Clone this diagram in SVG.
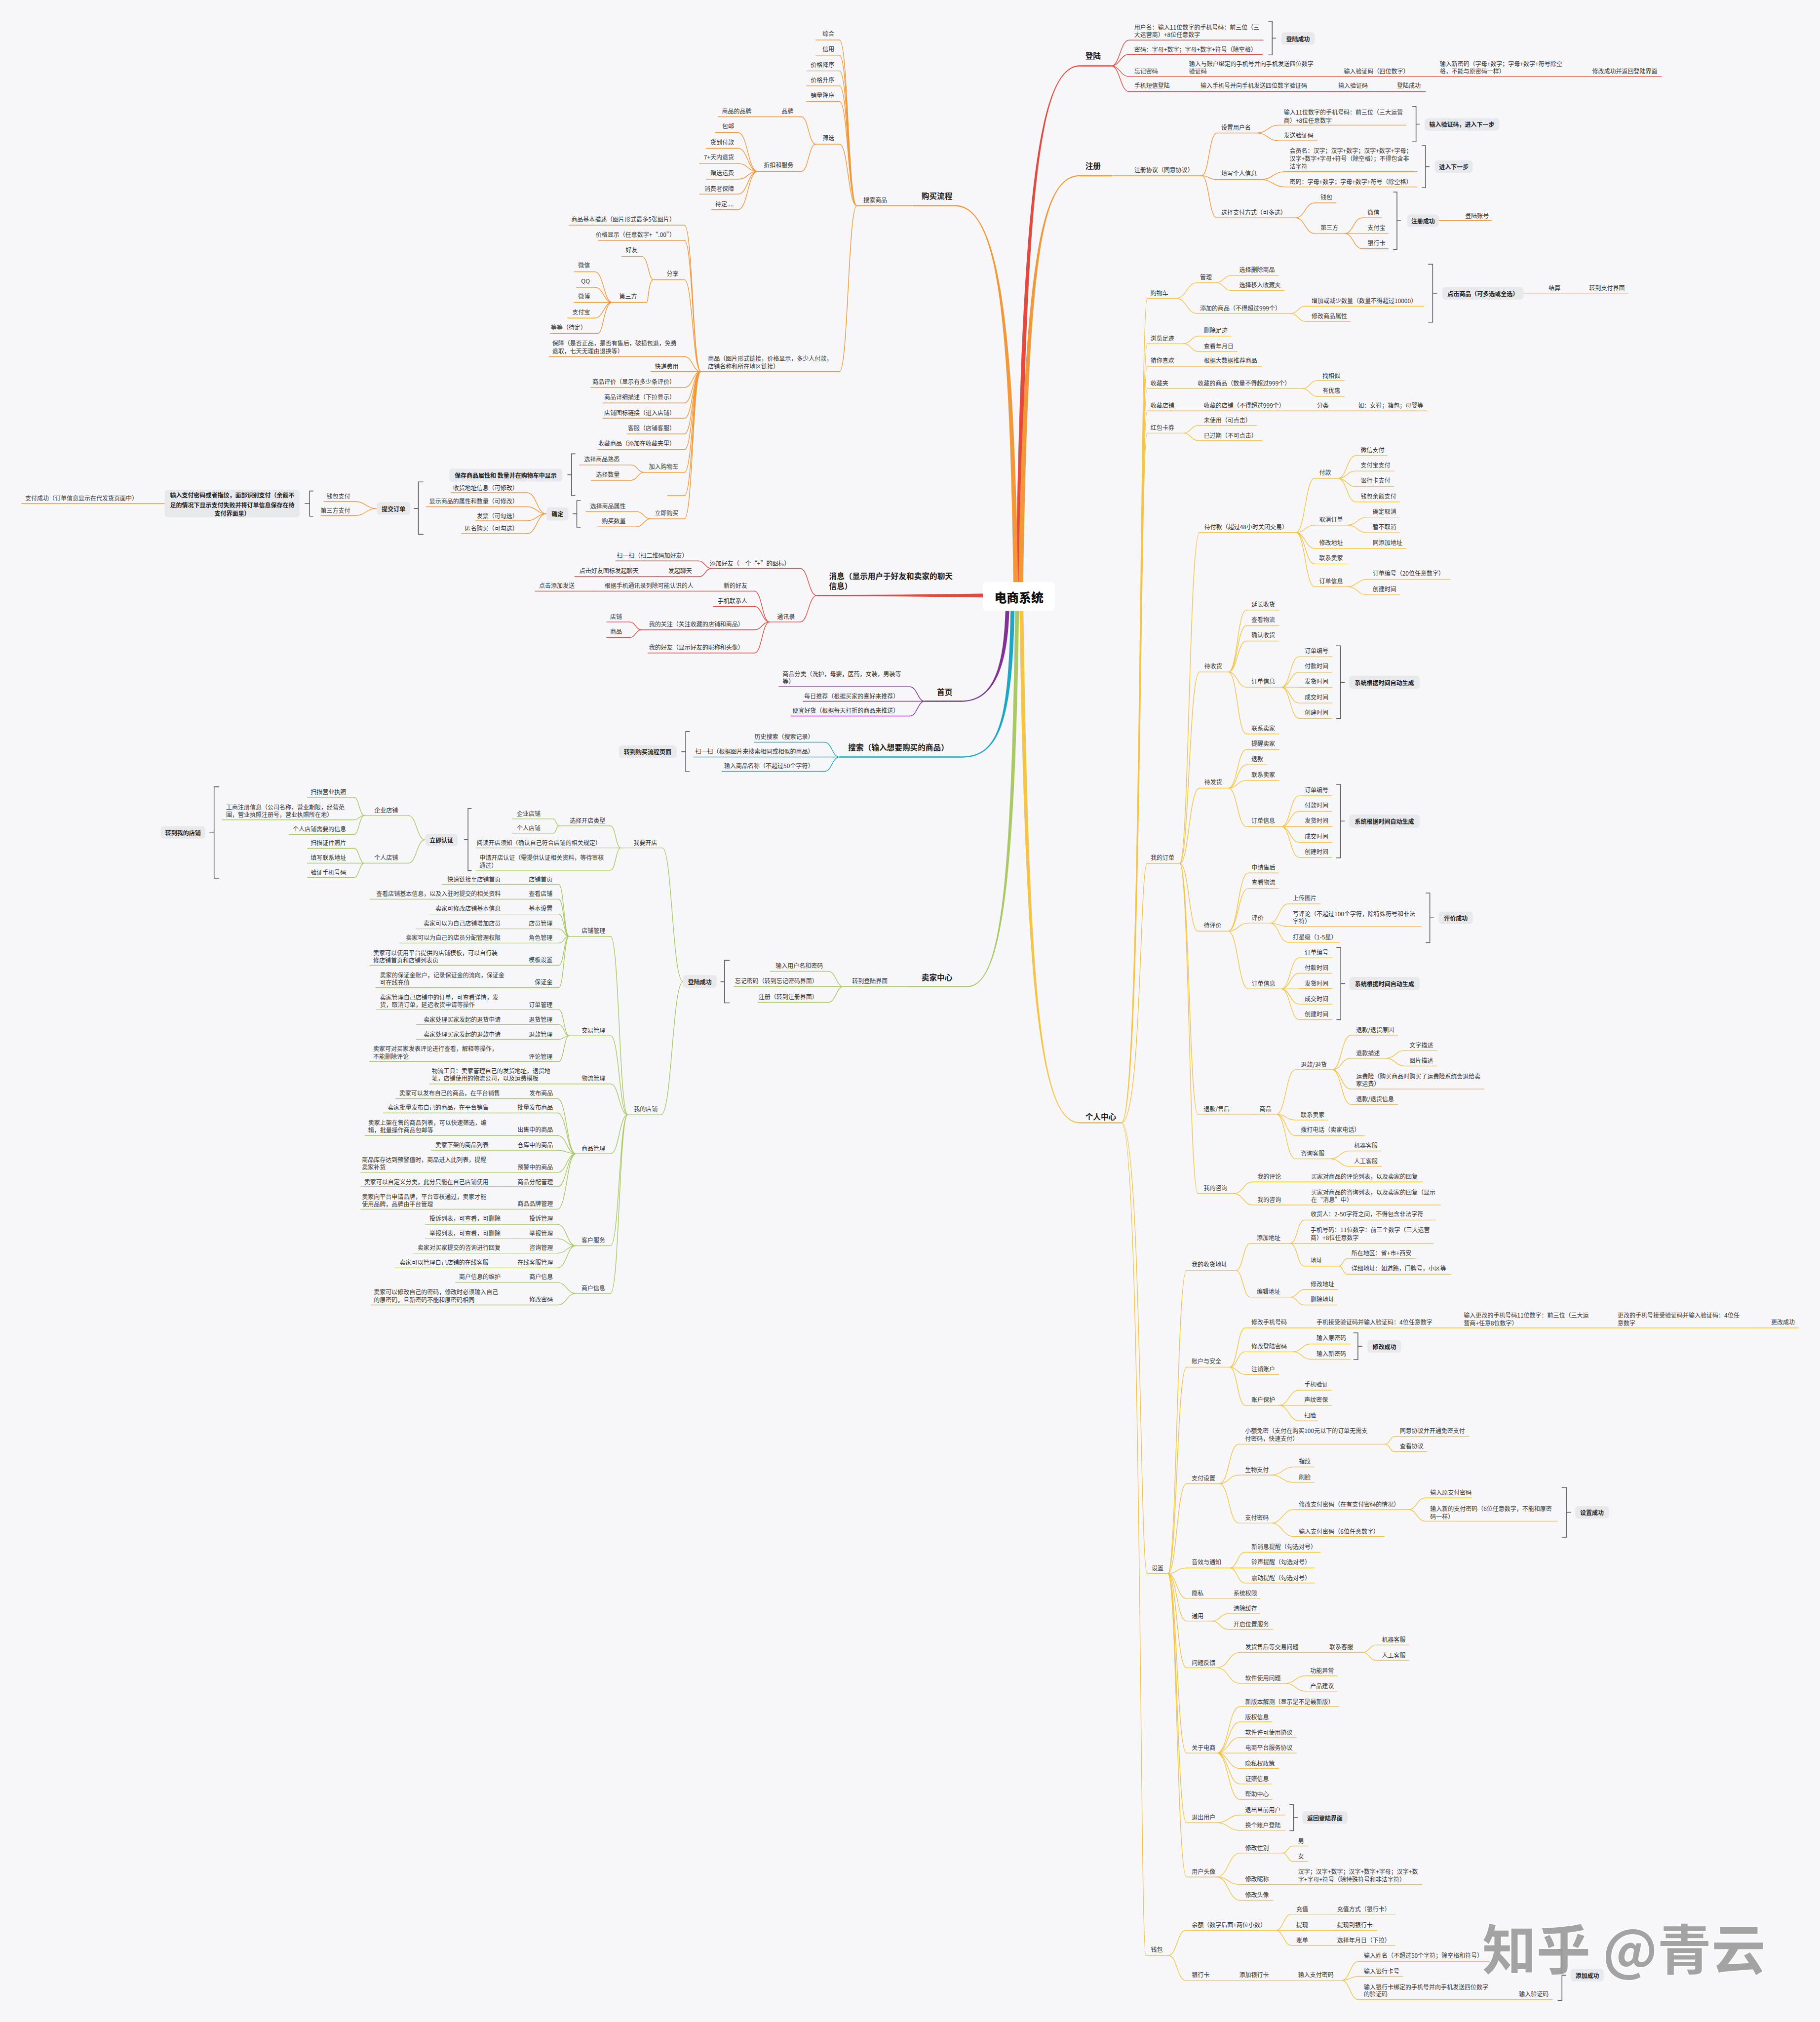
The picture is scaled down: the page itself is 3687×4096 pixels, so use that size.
<svg xmlns="http://www.w3.org/2000/svg" width="3687" height="4096" viewBox="0 0 3687 4096">
<style>
text{font-family:"Noto Sans CJK SC","Noto Sans",sans-serif;font-size:4.6px;fill:#333;dominant-baseline:central}
.e{text-anchor:end}
text.m{font-size:6px;font-weight:700;fill:#1e1e1e}
text.c{font-size:9.5px;font-weight:900;fill:#111;text-anchor:middle}
text.bt{font-weight:700;fill:#222;text-anchor:middle}
.bx{fill:#E8E9EC}
path.k{fill:none;stroke:#5c5c5c;stroke-width:.6}
.R path,.O path,.Y path,.P path,.C path,.G path{fill:none;stroke-width:.55;stroke-linecap:round}
.R path{stroke:#E4493F}.O path{stroke:#F39839}.Y path{stroke:#F5C445}.P path{stroke:#7E3395}.C path{stroke:#1DA7C6}.G path{stroke:#A8C964}
path.w{stroke-width:1}
.fR{fill:#E4493F}.fO{fill:#F39839}.fY{fill:#F5C445}.fP{fill:#7E3395}.fC{fill:#1DA7C6}.fG{fill:#A8C964}
</style>
<rect width="3687" height="4096" fill="#F7F7F9"/>
<g transform="scale(2.6112)">
<g id="connectors">
<g id="main-branches">
<path class="fR" d="M788.2 452C792.2 150 806 50.65 838 50.65L838 51.55C806 51.55 795.8 150 791.8 452Z"/>
<path class="fO" d="M790.2 452C794.2 200 808 135.85 838 135.85L838 136.75C808 136.75 797.8 200 793.8 452Z"/>
<path class="fO" d="M789.8 452C786.8 250 775 159.15 741 159.15L741 160.05C775 160.05 783.2 250 786.2 452Z"/>
<path class="fY" d="M791 474C795.5 780 808 871.45 838 871.45L838 870.55C808 870.55 798.5 780 794 474Z"/>
<path class="fP" d="M783 474C781.5 520 770 544.45 745.9 544.45L745.9 543.55C770 543.55 778.5 520 780 474Z"/>
<path class="fC" d="M787 474C785.5 560 775 587.75 745.9 587.75L745.9 586.85C775 586.85 782.5 560 784 474Z"/>
<path class="fG" d="M790.5 474C787.5 700 775 765.85 750.2 765.85L750.2 764.95C775 764.95 784.5 700 787.5 474Z"/>
<path class="fR" d="M762.5 460.5L700 461.3L633.7 461.55V462.45L700 462.7L762.5 463.5Z"/>
</g>
<g class="R">
<path d="M862 51.1C869 51.1 869 31.1 876 31.1M862 51.1C869 51.1 869 42.2 876 42.2M862 51.1C869 51.1 869 59.3 876 59.3M862 51.1C869 51.1 869 71.1 876 71.1"/>
<path d="M633.7 462C627.2 462 627.2 441 620.7 441M633.7 462C627.2 462 627.2 482.5 620.7 482.5"/>
<path d="M552.2 441C547 441 547 435.1 541.6 435.1M552.2 441C547 441 547 447.3 542.7 447.3"/>
<path d="M597.1 482.5C591.2 482.5 591.2 458.6 585.3 458.6M597.1 482.5C591.2 482.5 591.2 470.5 585.3 470.5M597.1 482.5C591.2 482.5 591.2 488.6 585.3 488.6M597.1 482.5C591.2 482.5 591.2 506.6 585.3 506.6"/>
<path d="M497.8 488.6C493.1 488.6 493.1 482.5 488.4 482.5M497.8 488.6C493.1 488.6 493.1 494.6 488.4 494.6"/>
</g>
<g class="O">
<path d="M862 136.3H876M1116.2 171.1H1133"/>
<path d="M932.3 136.3C938 136.3 938 103.2 944 103.2M932.3 136.3C938 136.3 938 139.3 944 139.3M932.3 136.3C938 136.3 938 169 944 169"/>
<path d="M975 103.2C983.5 103.2 983.5 97.1 992 97.1M975 103.2C983.5 103.2 983.5 109.2 992 109.2"/>
<path d="M978 139.3C987.5 139.3 987.5 133.2 997 133.2M978 139.3C987.5 139.3 987.5 145 997 145"/>
<path d="M1005 169C1012.5 169 1012.5 157.4 1020 157.4M1005 169C1012.5 169 1012.5 181.1 1020 181.1"/>
<path d="M1043 181.1C1050 181.1 1050 169 1057 169M1043 181.1H1057M1043 181.1C1050 181.1 1050 192.9 1057 192.9"/>
<path d="M664.7 159.6C658 159.6 658 31 651.3 31M664.7 159.6C658 159.6 658 42.8 651.3 42.8M664.7 159.6C658 159.6 658 55 651.3 55M664.7 159.6C658 159.6 658 66.6 651.3 66.6M664.7 159.6C658 159.6 658 78.8 651.3 78.8M664.7 159.6C658 159.6 658 111.8 651.3 111.8M664.7 159.6C658 159.6 658 288.3 651.3 288.3"/>
<path d="M632.9 111.8C627.3 111.8 627.3 90.6 621.6 90.6M632.9 111.8C627.3 111.8 627.3 133 621.6 133"/>
<path d="M587.8 133C580.2 133 580.2 102.8 572.5 102.8M587.8 133C580.2 133 580.2 115 572.5 115M587.8 133C580.2 133 580.2 126.8 572.5 126.8M587.8 133C580.2 133 580.2 139 572.5 139M587.8 133C580.2 133 580.2 150.6 572.5 150.6M587.8 133C580.2 133 580.2 162.7 572.5 162.7"/>
<path d="M543.8 288.3C537.4 288.3 537.4 174.6 531 174.6M543.8 288.3C537.4 288.3 537.4 186.5 531 186.5M543.8 288.3C537.4 288.3 537.4 217 531 217M543.8 288.3C537.4 288.3 537.4 276.7 531 276.7M543.8 288.3H531M543.8 288.3C537.4 288.3 537.4 300.5 531 300.5M543.8 288.3C537.4 288.3 537.4 312.6 531 312.6M543.8 288.3C537.4 288.3 537.4 324.5 531 324.5M543.8 288.3C537.4 288.3 537.4 336.6 531 336.6M543.8 288.3C537.4 288.3 537.4 348.8 531 348.8M543.8 288.3C537.4 288.3 537.4 366.4 531 366.4M543.8 288.3C537.4 288.3 537.4 384.5 531 384.5M543.8 288.3C537.4 288.3 537.4 402.5 531 402.5"/>
<path d="M506.9 217C503 217 503 198.9 497.7 198.9M506.9 217C503 217 503 234.6 501.8 234.6"/>
<path d="M475.1 234.6C468.3 234.6 468.3 210.8 461.5 210.8M475.1 234.6C468.3 234.6 468.3 222.9 461.5 222.9M475.1 234.6H461.5M475.1 234.6C468.3 234.6 468.3 246.7 461.5 246.7M475.1 234.6C468.3 234.6 468.3 258.6 463.9 258.6"/>
<path d="M499.7 366.4C494.6 366.4 494.6 360.7 489.5 360.7M499.7 366.4C494.6 366.4 494.6 372.6 489.5 372.6"/>
<path d="M505 402.5C499.3 402.5 499.3 396.9 493.6 396.9M505 402.5C499.3 402.5 499.3 408.7 493.6 408.7"/>
<path d="M423.9 398.6C416.4 398.6 416.4 382.2 408.8 382.2M423.9 398.6C416.4 398.6 416.4 393.1 408.8 393.1M423.9 398.6C416.4 398.6 416.4 404 408.8 404M423.9 398.6C416.4 398.6 416.4 414 408.8 414"/>
<path d="M292.3 394.5C283.7 394.5 283.7 389 275 389M292.3 394.5C283.7 394.5 283.7 400 275 400"/>
</g>
<g class="Y">
<path d="M870 871C886 871 884 231.4 890 231.4M870 871C886 871 884 266.6 890 266.6M870 871C886 871 884 284.2 890 284.2M870 871C886 871 884 301.5 890 301.5M870 871C886 871 884 318.7 890 318.7M870 871C886 871 884 336 890 336M870 871C886 871 884 669.8 890 669.8M870 871C886 871 884 1220.8 890 1220.8M870 871C886 871 884 1516.9 889 1516.9"/>
<path d="M912.2 231.4C920.6 231.4 920.6 219.3 929 219.3M912.2 231.4C920.6 231.4 920.6 243.2 929 243.2M943 219.3C949.5 219.3 949.5 213.6 956 213.6M943 219.3C949.5 219.3 949.5 225.5 956 225.5M1001.2 243.2C1007.1 243.2 1007.1 237.5 1013 237.5M1001.2 243.2C1007.1 243.2 1007.1 249.4 1013 249.4M1182 227.4H1198"/>
<path d="M918 266.6C924 266.6 924 260.7 930 260.7M918 266.6C924 266.6 924 272.7 930 272.7M1010.4 301.5C1016.2 301.5 1016.2 295.3 1022 295.3M1010.4 301.5C1016.2 301.5 1016.2 307.5 1022 307.5M918 336C924 336 924 330 930 330M918 336C924 336 924 341.9 930 341.9"/>
<path d="M915.2 669.8C922.5 669.8 922.5 413.1 930.6 413.1M915.2 669.8C922.5 669.8 922.5 521.3 930.6 521.3M915.2 669.8C922.5 669.8 922.5 611.4 930.6 611.4M915.2 669.8C922.5 669.8 922.5 722.4 929.4 722.4M915.2 669.8C922.5 669.8 922.5 864.4 929.4 864.4M915.2 669.8C922.5 669.8 922.5 925.9 929.4 925.9"/>
<path d="M1005.3 413.1C1012.6 413.1 1012.6 371.1 1020 371.1M1005.3 413.1C1012.6 413.1 1012.6 407.4 1020 407.4M1005.3 413.1C1012.6 413.1 1012.6 425.4 1020 425.4M1005.3 413.1C1012.6 413.1 1012.6 437.5 1020 437.5M1005.3 413.1C1012.6 413.1 1012.6 455.1 1020 455.1"/>
<path d="M1037.8 371.1C1044.9 371.1 1044.9 353.5 1052 353.5M1037.8 371.1C1044.9 371.1 1044.9 365.4 1052 365.4M1037.8 371.1C1044.9 371.1 1044.9 377.5 1052 377.5M1037.8 371.1C1044.9 371.1 1044.9 389.4 1052 389.4"/>
<path d="M1045 407.4C1053 407.4 1053 401.2 1061 401.2M1045 407.4C1053 407.4 1053 413.3 1061 413.3M1045 455.1C1053 455.1 1053 449.4 1061 449.4M1045 455.1C1053 455.1 1053 461.5 1061 461.5"/>
<path d="M953 521.3C960 521.3 960 473.3 967 473.3M953 521.3C960 521.3 960 485.4 967 485.4M953 521.3C960 521.3 960 497.3 967 497.3M953 521.3C960 521.3 960 533.1 967 533.1M953 521.3C960 521.3 960 569.4 967 569.4"/>
<path d="M994 533.1C1001 533.1 1001 509.4 1008 509.4M994 533.1C1001 533.1 1001 521.5 1008 521.5M994 533.1H1008M994 533.1C1001 533.1 1001 545.4 1008 545.4M994 533.1C1001 533.1 1001 557.3 1008 557.3"/>
<path d="M953 611.4C960 611.4 960 581.5 967 581.5M953 611.4C960 611.4 960 593.3 967 593.3M953 611.4C960 611.4 960 605.4 967 605.4M953 611.4C960 611.4 960 641.3 967 641.3"/>
<path d="M994 641.3C1001 641.3 1001 617.3 1008 617.3M994 641.3C1001 641.3 1001 629.4 1008 629.4M994 641.3H1008M994 641.3C1001 641.3 1001 653.4 1008 653.4M994 641.3C1001 641.3 1001 665.2 1008 665.2"/>
<path d="M952.7 722.4C960.6 722.4 960.6 677.2 968.5 677.2M952.7 722.4C960.6 722.4 960.6 689.2 968.5 689.2M952.7 722.4C960.6 722.4 960.6 716.1 968.5 716.1M952.7 722.4C960.6 722.4 960.6 767.2 968.5 767.2"/>
<path d="M985.2 716.1C992.3 716.1 992.3 701.2 999.5 701.2M985.2 716.1C992.3 716.1 992.3 718.8 999.5 718.8M985.2 716.1C992.3 716.1 992.3 731 999.5 731"/>
<path d="M994 767.2C1001 767.2 1001 743 1008 743M994 767.2C1001 767.2 1001 755 1008 755M994 767.2H1008M994 767.2C1001 767.2 1001 779 1008 779M994 767.2C1001 767.2 1001 791 1008 791"/>
<path d="M990.2 864.4C997.6 864.4 997.6 829.9 1005 829.9M990.2 864.4C997.6 864.4 997.6 868.9 1005 868.9M990.2 864.4C997.6 864.4 997.6 881 1005 881M990.2 864.4C997.6 864.4 997.6 899 1005 899"/>
<path d="M1033.5 829.9C1040.7 829.9 1040.7 803.1 1048 803.1M1033.5 829.9C1040.7 829.9 1040.7 821 1048 821M1033.5 829.9C1040.7 829.9 1040.7 844.8 1048 844.8M1033.5 829.9C1040.7 829.9 1040.7 856.8 1048 856.8"/>
<path d="M1075 821C1082.5 821 1082.5 814.9 1090 814.9M1075 821C1082.5 821 1082.5 827 1090 827M1032 899C1039.5 899 1039.5 892.9 1047 892.9M1032 899C1039.5 899 1039.5 904.9 1047 904.9M957 925.9C964.5 925.9 964.5 916.9 972 916.9M957 925.9C964.5 925.9 964.5 934.8 972 934.8"/>
<path d="M906 1220.8C913 1220.8 913 985.6 920.5 985.6M906 1220.8C913 1220.8 913 1060.6 920.5 1060.6M906 1220.8C913 1220.8 913 1151 920.5 1151M906 1220.8C913 1220.8 913 1216.4 920.5 1216.4M906 1220.8C913 1220.8 913 1240 920.5 1240M906 1220.8C913 1220.8 913 1257.6 920.5 1257.6M906 1220.8C913 1220.8 913 1293.8 920.5 1293.8M906 1220.8C913 1220.8 913 1360 920.5 1360M906 1220.8C913 1220.8 913 1414 920.5 1414M906 1220.8C913 1220.8 913 1456.1 920.5 1456.1"/>
<path d="M958.7 985.6C964.4 985.6 964.4 964.6 970 964.6M958.7 985.6C964.4 985.6 964.4 1006.3 970 1006.3M1001 964.6C1006.5 964.6 1006.5 946.5 1012 946.5M1001 964.6H1012M1001 964.6C1006.5 964.6 1006.5 982.2 1012 982.2M1038.7 982.2C1041.9 982.2 1041.9 976.5 1045 976.5M1038.7 982.2C1041.9 982.2 1041.9 988.5 1045 988.5M1001 1006.3C1006.5 1006.3 1006.5 1000.4 1012 1000.4M1001 1006.3C1006.5 1006.3 1006.5 1012.4 1012 1012.4"/>
<path d="M954 1060.6C960 1060.6 960 1030.2 966 1030.2M954 1060.6C960 1060.6 960 1048.7 966 1048.7M954 1060.6C960 1060.6 960 1066.3 966 1066.3M954 1060.6C960 1060.6 960 1090.2 966 1090.2M1003 1048.7C1010 1048.7 1010 1042.6 1017 1042.6M1003 1048.7C1010 1048.7 1010 1054.5 1017 1054.5M992 1090.2C1000 1090.2 1000 1078.4 1008 1078.4M992 1090.2H1008M992 1090.2C1000 1090.2 1000 1102.3 1008 1102.3"/>
<path d="M946 1151C953.5 1151 953.5 1120.4 961 1120.4M946 1151C953.5 1151 953.5 1144.3 961 1144.3M946 1151C953.5 1151 953.5 1181.6 961 1181.6M1074.6 1120.4C1078.3 1120.4 1078.3 1114.3 1082 1114.3M1074.6 1120.4C1078.3 1120.4 1078.3 1126.2 1082 1126.2M986 1144.3C995 1144.3 995 1138 1004 1138M986 1144.3C995 1144.3 995 1150.1 1004 1150.1M986 1181.6C995 1181.6 995 1171.1 1004 1171.1M986 1181.6C995 1181.6 995 1192.1 1004 1192.1M1092.5 1171.1C1099.3 1171.1 1099.3 1162 1106 1162M1092.5 1171.1C1099.3 1171.1 1099.3 1180.1 1106 1180.1"/>
<path d="M954 1216.4C960 1216.4 960 1204.2 966 1204.2M954 1216.4H966M954 1216.4C960 1216.4 960 1228.1 966 1228.1M940 1257.6C946.5 1257.6 946.5 1251.9 953 1251.9M940 1257.6C946.5 1257.6 946.5 1264 953 1264"/>
<path d="M944 1293.8C953 1293.8 953 1282 962 1282M944 1293.8C953 1293.8 953 1305.9 962 1305.9M1056.8 1282C1062.4 1282 1062.4 1276.1 1068 1276.1M1056.8 1282C1062.4 1282 1062.4 1288 1068 1288M997 1305.9C1005 1305.9 1005 1300.1 1013 1300.1M997 1305.9C1005 1305.9 1005 1312 1013 1312"/>
<path d="M944 1360C953 1360 953 1323.9 962 1323.9M944 1360C953 1360 953 1335.8 962 1335.8M944 1360C953 1360 953 1347.9 962 1347.9M944 1360H962M944 1360C953 1360 953 1372 962 1372M944 1360C953 1360 953 1384 962 1384M944 1360C953 1360 953 1396 962 1396"/>
<path d="M944 1414C953 1414 953 1408.1 962 1408.1M944 1414C953 1414 953 1420 962 1420M944 1456.1C953 1456.1 953 1437.6 962 1437.6M944 1456.1C953 1456.1 953 1462 962 1462M944 1456.1C953 1456.1 953 1474.2 962 1474.2M995 1437.6C999 1437.6 999 1432.1 1003 1432.1M995 1437.6C999 1437.6 999 1444 1003 1444"/>
<path d="M906.4 1516.9C913.2 1516.9 913.2 1497.5 920 1497.5M906.4 1516.9C913.2 1516.9 913.2 1536.4 920 1536.4M989.6 1497.5C995.8 1497.5 995.8 1485 1002 1485M989.6 1497.5H1002M989.6 1497.5C995.8 1497.5 995.8 1509.2 1002 1509.2M1040.7 1536.4C1047.4 1536.4 1047.4 1521.6 1054 1521.6M1040.7 1536.4C1047.4 1536.4 1047.4 1533.2 1054 1533.2M1040.7 1536.4C1047.4 1536.4 1047.4 1551.3 1054 1551.3"/>
</g>
<g class="P">
<path d="M717.6 544C711.7 544 711.7 532.8 705.8 532.8M717.6 544H708M717.6 544C711.7 544 711.7 555.5 705.8 555.5"/>
</g>
<g class="C">
<path d="M651.4 587.3C645.5 587.3 645.5 575.8 639.6 575.8M651.4 587.3H646.7M651.4 587.3C645.5 587.3 645.5 598.4 639.6 598.4"/>
</g>
<g class="G">
<path d="M654.6 765.4C648.6 765.4 648.6 753.5 642.5 753.5M654.6 765.4H648.6M654.6 765.4C648.6 765.4 648.6 777.6 642.5 777.6"/>
<path d="M530 761.5C521.5 761.5 521.5 657.8 513.9 657.8M530 761.5C521.5 761.5 521.5 864.8 512.8 864.8"/>
<path d="M481.7 657.8C477.7 657.8 477.7 640.7 473.6 640.7M481.7 657.8H473.6M481.7 657.8C477.7 657.8 477.7 675.1 473.6 675.1M433.6 640.7C431.5 640.7 431.5 635.3 429.4 635.3M433.6 640.7C431.5 640.7 431.5 646.4 429.4 646.4"/>
<path d="M329.8 651.5C323.3 651.5 323.3 632.6 316.7 632.6M329.8 651.5C323.3 651.5 323.3 669.6 316.7 669.6"/>
<path d="M282.8 632.6C278.7 632.6 278.7 618.5 274.6 618.5M282.8 632.6C278.7 632.6 278.7 636 274.6 636M282.8 632.6C278.7 632.6 278.7 647.4 274.6 647.4M282.8 669.6C278.7 669.6 278.7 658.1 274.6 658.1M282.8 669.6H274.6M282.8 669.6C278.7 669.6 278.7 680.8 274.6 680.8"/>
<path d="M487 864.8C480.4 864.8 480.4 726.4 473.7 726.4M487 864.8C480.4 864.8 480.4 803.5 473.7 803.5M487 864.8C480.4 864.8 480.4 840.9 473.7 840.9M487 864.8C480.4 864.8 480.4 895.1 473.7 895.1M487 864.8C480.4 864.8 480.4 966.4 473.7 966.4M487 864.8C480.4 864.8 480.4 1003.4 473.7 1003.4"/>
<path d="M441.5 726.4C437.5 726.4 437.5 686.1 433.5 686.1M441.5 726.4C437.5 726.4 437.5 697.6 433.5 697.6M441.5 726.4C437.5 726.4 437.5 709.1 433.5 709.1M441.5 726.4C437.5 726.4 437.5 720.6 433.5 720.6M441.5 726.4C437.5 726.4 437.5 731.6 433.5 731.6M441.5 726.4C437.5 726.4 437.5 748.9 433.5 748.9M441.5 726.4C437.5 726.4 437.5 766.2 433.5 766.2"/>
<path d="M441.5 803.5C437.5 803.5 437.5 783.3 433.5 783.3M441.5 803.5C437.5 803.5 437.5 794.8 433.5 794.8M441.5 803.5C437.5 803.5 437.5 806.3 433.5 806.3M441.5 803.5C437.5 803.5 437.5 823.5 433.5 823.5"/>
<path d="M446.8 895.1C439.7 895.1 439.7 852.3 432.5 852.3M446.8 895.1C439.7 895.1 439.7 863.4 432.5 863.4M446.8 895.1C439.7 895.1 439.7 880.9 432.5 880.9M446.8 895.1C439.7 895.1 439.7 892.3 432.5 892.3M446.8 895.1C439.7 895.1 439.7 909.5 432.5 909.5M446.8 895.1C439.7 895.1 439.7 920.6 432.5 920.6M446.8 895.1C439.7 895.1 439.7 938.1 432.5 938.1"/>
<path d="M446.8 966.4C439.7 966.4 439.7 949.8 432.5 949.8M446.8 966.4C439.7 966.4 439.7 961 432.5 961M446.8 966.4C439.7 966.4 439.7 972.2 432.5 972.2M446.8 966.4C439.7 966.4 439.7 983.6 432.5 983.6M446.8 1003.4C439.7 1003.4 439.7 995 432.5 995M446.8 1003.4C439.7 1003.4 439.7 1012.4 432.5 1012.4"/>
</g>
</g>
<g id="nodes">
<g id="root"><rect x="762.5" y="451.5" width="56" height="22.3" rx="3" fill="#fff"/><text class="c" x="790.5" y="463">电商系统</text></g>
<g class="R">
<g id="dl"><text class="m" x="842" y="43">登陆</text><path class="w" d="M838 51.1H862"/></g>
<g id="dl1"><text><tspan x="880" y="20.8">用户名：输入11位数字的手机号码：前三位（三</tspan><tspan x="880" y="26.5">大运营商）+8位任意数字</tspan></text><path d="M876 31.1H980"/></g>
<g id="dl2"><text x="880" y="38">密码：字母+数字；字母+数字+符号（除空格）</text><path d="M876 42.2H979.4"/></g>
<g id="dl3"><text x="880" y="54.9">忘记密码</text><path d="M876 59.3H919"/></g>
<g id="dl3a"><text><tspan x="922.5" y="48.9">输入与账户绑定的手机号并向手机发送四位数字</tspan><tspan x="922.5" y="54.9">验证码</tspan></text><path d="M919 59.3H1038"/></g>
<g id="dl3b"><text x="1042.6" y="54.9">输入验证码（四位数字）</text><path d="M1038 59.3H1113"/></g>
<g id="dl3c"><text><tspan x="1117" y="48.9">输入新密码（字母+数字；字母+数字+符号除空</tspan><tspan x="1117" y="54.9">格，不能与原密码一样）</tspan></text><path d="M1113 59.3H1231"/></g>
<g id="dl3d"><text x="1235.3" y="54.9">修改成功并返回登陆界面</text><path d="M1231 59.3H1289"/></g>
<g id="dl4"><text x="880" y="66.2">手机短信登陆</text><path d="M876 71.1H927"/></g>
<g id="dl4a"><text x="931.4" y="66.2">输入手机号并向手机发送四位数字验证码</text><path d="M927 71.1H1035"/></g>
<g id="dl4b"><text x="1038.2" y="66.2">输入验证码</text><path d="M1035 71.1H1080"/></g>
<g id="dl4c"><text x="1083.8" y="66.2">登陆成功</text><path d="M1080 71.1H1106"/></g>
<g id="xx"><text class="m"><tspan x="643.2" y="446.4">消息（显示用户于好友和卖家的聊天</tspan><tspan x="643.2" y="454.2">信息）</tspan></text><path d="M633.7 462H700"/></g>
<g id="x1"><text class="e" x="612.9" y="436.7">添加好友（一个“+”的图标）</text><path d="M552.2 441H620.7"/></g>
<g id="x1a"><text class="e" x="533.7" y="430.7">扫一扫（扫二维码加好友）</text><path d="M477.7 435.1H541.6"/></g>
<g id="x1b"><text class="e" x="536.8" y="442.7">发起聊天</text><path d="M510 447.3H542.7"/></g>
<g id="x1b1"><text class="e" x="495.5" y="442.7">点击好友图标发起聊天</text><path d="M445.8 447.3H510"/></g>
<g id="x2"><text class="e" x="616.7" y="478">通讯录</text><path d="M597.1 482.5H620.7"/></g>
<g id="x2a"><text class="e" x="579.8" y="453.9">新的好友</text><path d="M545 458.6H585.3"/></g>
<g id="x2a1"><text class="e" x="538" y="453.9">根据手机通讯录列除可能认识的人</text><path d="M460 458.6H545"/></g>
<g id="x2a2"><text class="e" x="445.8" y="453.9">点击添加发送</text><path d="M415.1 458.6H460"/></g>
<g id="x2b"><text class="e" x="579.8" y="465.9">手机联系人</text><path d="M553.4 470.5H585.3"/></g>
<g id="x2c"><text class="e" x="577" y="484">我的关注（关注收藏的店铺和商品）</text><path d="M497.8 488.6H585.3"/></g>
<g id="x2c1"><text class="e" x="482.5" y="478">店铺</text><path d="M470.6 482.5H488.4"/></g>
<g id="x2c2"><text class="e" x="482.5" y="489.8">商品</text><path d="M470.6 494.6H488.4"/></g>
<g id="x2d"><text class="e" x="577" y="501.8">我的好友（显示好友的昵称和头像）</text><path d="M502.6 506.6H585.3"/></g>
</g>
<g class="O">
<g id="zc"><text class="m" x="842" y="128.6">注册</text><path class="w" d="M838 136.3H862"/></g>
<g id="zc0"><text x="880" y="131.4">注册协议（同意协议）</text><path d="M876 136.3H932.3"/></g>
<g id="zc1"><text x="947.5" y="98.7">设置用户名</text><path d="M944 103.2H975"/></g>
<g id="zc1a"><text><tspan x="996" y="86.6">输入11位数字的手机号码：前三位（三大运营</tspan><tspan x="996" y="92.9">商）+8位任意数字</tspan></text><path d="M992 97.1H1091"/></g>
<g id="zc1b"><text x="996" y="104.6">发送验证码</text><path d="M992 109.2H1022"/></g>
<g id="zc2"><text x="947.5" y="134.3">填写个人信息</text><path d="M944 139.3H978"/></g>
<g id="zc2a"><text><tspan x="1000.5" y="116.5">会员名：汉字；汉字+数字；汉字+数字+字母；</tspan><tspan x="1000.5" y="122.6">汉字+数字+字母+符号（除空格）；不得包含非</tspan><tspan x="1000.5" y="128.6">法字符</tspan></text><path d="M997 133.2H1099.4"/></g>
<g id="zc2b"><text x="1000.5" y="140.8">密码：字母+数字；字母+数字+符号（除空格）</text><path d="M997 145H1099.4"/></g>
<g id="zc3"><text x="947.5" y="164.6">选择支付方式（可多选）</text><path d="M944 169H1005"/></g>
<g id="zc3a"><text x="1024.4" y="152.6">钱包</text><path d="M1020 157.4H1036.5"/></g>
<g id="zc3b"><text x="1024.4" y="176.5">第三方</text><path d="M1020 181.1H1043"/></g>
<g id="zc3b1"><text x="1061" y="164.4">微信</text><path d="M1057 169H1072"/></g>
<g id="zc3b2"><text x="1061" y="176.5">支付宝</text><path d="M1057 181.1H1077"/></g>
<g id="zc3b3"><text x="1061" y="188.3">银行卡</text><path d="M1057 192.9H1077"/></g>
<g id="zc4"><text x="1136.7" y="167.1">登陆账号</text><path d="M1133 171.1H1157"/></g>
<g id="gm"><text class="m" x="714.9" y="151.9">购买流程</text><path class="w" d="M708.7 159.6H741"/></g>
<g id="b1"><text class="e" x="688.2" y="155">搜索商品</text><path d="M664.7 159.6H708.7"/></g>
<g id="b1a"><text class="e" x="647.3" y="25.8">综合</text><path d="M632.9 31H651.3"/></g>
<g id="b1b"><text class="e" x="647.3" y="37.7">信用</text><path d="M632.9 42.8H651.3"/></g>
<g id="b1c"><text class="e" x="647.3" y="49.8">价格降序</text><path d="M625.7 55H651.3"/></g>
<g id="b1d"><text class="e" x="647.3" y="62">价格升序</text><path d="M625.7 66.6H651.3"/></g>
<g id="b1e"><text class="e" x="647.3" y="73.8">销量降序</text><path d="M625.7 78.8H651.3"/></g>
<g id="b1f"><text class="e" x="647.3" y="106.7">筛选</text><path d="M632.9 111.8H651.3"/></g>
<g id="b1f1"><text class="e" x="615.5" y="86">品牌</text><path d="M602.2 90.6H621.6"/></g>
<g id="b1f1a"><text class="e" x="583.1" y="86">商品的品牌</text><path d="M557.1 90.6H602.2"/></g>
<g id="b1f2"><text class="e" x="615.5" y="127.8">折扣和服务</text><path d="M587.8 133H621.6"/></g>
<g id="b1f2a"><text class="e" x="569.5" y="97.6">包邮</text><path d="M555 102.8H572.5"/></g>
<g id="b1f2b"><text class="e" x="569.5" y="110">货到付款</text><path d="M547.9 115H572.5"/></g>
<g id="b1f2c"><text class="e" x="569.5" y="121.6">7+天内退货</text><path d="M542.7 126.8H572.5"/></g>
<g id="b1f2d"><text class="e" x="569.5" y="133.8">赠送运费</text><path d="M547.9 139H572.5"/></g>
<g id="b1f2e"><text class="e" x="569.5" y="146">消费者保障</text><path d="M542.7 150.6H572.5"/></g>
<g id="b1f2f"><text class="e" x="569.2" y="157.8">待定....</text><path d="M552 162.7H572.5"/></g>
<g id="b2"><text><tspan x="549.3" y="277.7">商品（图片形式链接，价格显示，多少人付款，</tspan><tspan x="549.3" y="283.7">店铺名称和所在地区链接）</tspan></text><path d="M543.8 288.3H651.3"/></g>
<g id="b2a"><text class="e" x="523.9" y="170">商品基本描述（图片形式最多5张图片）</text><path d="M441.3 174.6H531"/></g>
<g id="b2b"><text class="e" x="523.9" y="181.9">价格显示（任意数字+“.00”）</text><path d="M463.9 186.5H531"/></g>
<g id="b2c"><text class="e" x="526.4" y="211.8">分享</text><path d="M506.9 217H531"/></g>
<g id="b2c1"><text class="e" x="494.6" y="193.7">好友</text><path d="M482.3 198.9H497.7"/></g>
<g id="b2c2"><text class="e" x="494.2" y="229.4">第三方</text><path d="M475.1 234.6H501.8"/></g>
<g id="b2c2a"><text class="e" x="457.7" y="205.6">微信</text><path d="M445.4 210.8H461.5"/></g>
<g id="b2c2b"><text class="e" x="457.7" y="217.8">QQ</text><path d="M447 222.9H461.5"/></g>
<g id="b2c2c"><text class="e" x="457.7" y="229.7">微博</text><path d="M445.4 234.6H461.5"/></g>
<g id="b2c2d"><text class="e" x="457.7" y="241.8">支付宝</text><path d="M440.3 246.7H461.5"/></g>
<g id="b2c2e"><text class="e" x="455" y="253.7">等等（待定）</text><path d="M427 258.6H463.9"/></g>
<g id="b2d"><text><tspan x="428.4" y="265.6">保障（是否正品，是否有售后，破损包退，免费</tspan><tspan x="428.4" y="272">退取，七天无理由退换等）</tspan></text><path d="M426 276.7H531"/></g>
<g id="b2e"><text class="e" x="526.4" y="283.9">快递费用</text><path d="M505 288.3H531"/></g>
<g id="b2f"><text class="e" x="523.9" y="295.8">商品评价（显示有多少条评价）</text><path d="M458.3 300.5H531"/></g>
<g id="b2g"><text class="e" x="523.9" y="307.7">商品详细描述（下拉显示）</text><path d="M467.7 312.6H531"/></g>
<g id="b2h"><text class="e" x="523.9" y="319.8">店铺图标链接（进入店铺）</text><path d="M467.7 324.5H531"/></g>
<g id="b2i"><text class="e" x="523.9" y="332">客服（店铺客服）</text><path d="M486.5 336.6H531"/></g>
<g id="b2j"><text class="e" x="523.9" y="343.9">收藏商品（添加在收藏夹里）</text><path d="M464 348.8H531"/></g>
<g id="b2k"><text class="e" x="526.4" y="361.7">加入购物车</text><path d="M499.7 366.4H531"/></g>
<g id="b2k1"><text class="e" x="480.7" y="356">选择商品熟悉</text><path d="M449.5 360.7H489.5"/></g>
<g id="b2k2"><text class="e" x="480.7" y="367.9">选择数量</text><path d="M458.7 372.6H489.5"/></g>
<g id="b2l"><path d="M518 384.5H531"/></g>
<g id="b2m"><text class="e" x="526.4" y="397.9">立即购买</text><path d="M505 402.5H531"/></g>
<g id="b2m1"><text class="e" x="485.4" y="392.2">选择商品属性</text><path d="M454.6 396.9H493.6"/></g>
<g id="b2m2"><text class="e" x="485.4" y="403.9">购买数量</text><path d="M463.9 408.7H493.6"/></g>
<g id="b3a"><text class="e" x="402" y="378">收货地址信息（可修改）</text><path d="M349.9 382.2H408.8"/></g>
<g id="b3b"><text class="e" x="402" y="388.7">显示商品的属性和数量（可修改）</text><path d="M330.7 393.1H408.8"/></g>
<g id="b3c"><text class="e" x="402" y="400">发票（可勾选）</text><path d="M369 404H408.8"/></g>
<g id="b3d"><text class="e" x="402" y="409.6">匿名购买（可勾选）</text><path d="M358 414H408.8"/></g>
<g id="b4a"><text class="e" x="271.7" y="384.7">钱包支付</text><path d="M251.2 389H275"/></g>
<g id="b4b"><text class="e" x="271.7" y="395.8">第三方支付</text><path d="M249 400H275"/></g>
<g id="b5"><text x="19.5" y="386.3">支付成功（订单信息显示在代发货页面中）</text><path d="M16.7 390.6H127.8"/></g>
</g>
<g class="Y">
<g id="gr"><text class="m" x="842" y="866">个人中心</text><path class="w" d="M838 871H870"/></g>
<g id="y1"><text x="892.6" y="227">购物车</text><path d="M890 231.4H912.2"/></g>
<g id="y1a"><text x="931" y="214.7">管理</text><path d="M929 219.3H943"/></g>
<g id="y1a1"><text x="961.4" y="208.9">选择删除商品</text><path d="M956 213.6H992"/></g>
<g id="y1a2"><text x="961.4" y="220.7">选择移入收藏夹</text><path d="M956 225.5H996.5"/></g>
<g id="y1b"><text x="931" y="238.8">添加的商品（不得超过999个）</text><path d="M929 243.2H1001.2"/></g>
<g id="y1b1"><text x="1017.5" y="233">增加或减少数量（数量不得超过10000）</text><path d="M1013 237.5H1104.6"/></g>
<g id="y1b2"><text x="1017.5" y="245">修改商品属性</text><path d="M1013 249.4H1047.6"/></g>
<g id="y1c"><text x="1201.5" y="222.9">结算</text><path d="M1198 227.4H1228"/></g>
<g id="y1d"><text x="1233" y="222.9">转到支付界面</text><path d="M1228 227.4H1263"/></g>
<g id="y2"><text x="892.6" y="262.2">浏览足迹</text><path d="M890 266.6H918"/></g>
<g id="y2a"><text x="934" y="256.2">删除足迹</text><path d="M930 260.7H955"/></g>
<g id="y2b"><text x="934" y="268.2">查看年月日</text><path d="M930 272.7H960"/></g>
<g id="y3"><text x="892.6" y="279.4">猜你喜欢</text><path d="M890 284.2H930"/></g>
<g id="y3a"><text x="934" y="279.4">根据大数据推荐商品</text><path d="M930 284.2H979"/></g>
<g id="y4"><text x="892.6" y="296.9">收藏夹</text><path d="M890 301.5H926"/></g>
<g id="y4a"><text x="929.2" y="296.9">收藏的商品（数量不得超过999个）</text><path d="M926 301.5H1010.4"/></g>
<g id="y4a1"><text x="1026" y="291.1">找相似</text><path d="M1022 295.3H1043"/></g>
<g id="y4a2"><text x="1026" y="302.7">有优惠</text><path d="M1022 307.5H1043"/></g>
<g id="y5"><text x="892.6" y="314.3">收藏店铺</text><path d="M890 318.7H930"/></g>
<g id="y5a"><text x="934" y="314.3">收藏的店铺（不得超过999个）</text><path d="M930 318.7H1018"/></g>
<g id="y5b"><text x="1021.7" y="314.3">分类</text><path d="M1018 318.7H1050"/></g>
<g id="y5c"><text x="1053.6" y="314.3">如：女鞋；箱包；母婴等</text><path d="M1050 318.7H1107"/></g>
<g id="y6"><text x="892.6" y="331.4">红包卡券</text><path d="M890 336H918"/></g>
<g id="y6a"><text x="934" y="325.6">未使用（可点击）</text><path d="M930 330H975"/></g>
<g id="y6b"><text x="934" y="337.6">已过期（不可点击）</text><path d="M930 341.9H979"/></g>
<g id="y7"><text x="892.7" y="665">我的订单</text><path d="M890 669.8H915.2"/></g>
<g id="o1"><text x="934.3" y="408.4">待付款（超过48小时关闭交易）</text><path d="M930.6 413.1H1005.3"/></g>
<g id="o1a"><text x="1023.5" y="366.4">付款</text><path d="M1020 371.1H1037.8"/></g>
<g id="o1a1"><text x="1055.6" y="348.6">微信支付</text><path d="M1052 353.5H1076.3"/></g>
<g id="o1a2"><text x="1055.6" y="360.5">支付宝支付</text><path d="M1052 365.4H1081.5"/></g>
<g id="o1a3"><text x="1055.6" y="372.6">银行卡支付</text><path d="M1052 377.5H1081.5"/></g>
<g id="o1a4"><text x="1055.6" y="384.5">钱包余额支付</text><path d="M1052 389.4H1085.9"/></g>
<g id="o1b"><text x="1023.5" y="402.7">取消订单</text><path d="M1020 407.4H1045"/></g>
<g id="o1b1"><text x="1064.9" y="396.5">确定取消</text><path d="M1061 401.2H1086"/></g>
<g id="o1b2"><text x="1064.9" y="408.6">暂不取消</text><path d="M1061 413.3H1086"/></g>
<g id="o1c"><text x="1023.5" y="420.7">修改地址</text><path d="M1020 425.4H1061"/></g>
<g id="o1c1"><text x="1064.9" y="420.7">同添加地址</text><path d="M1061 425.4H1090.8"/></g>
<g id="o1d"><text x="1023.5" y="432.6">联系卖家</text><path d="M1020 437.5H1045"/></g>
<g id="o1e"><text x="1023.5" y="450.6">订单信息</text><path d="M1020 455.1H1045"/></g>
<g id="o1e1"><text x="1064.9" y="444.5">订单编号（20位任意数字）</text><path d="M1061 449.4H1125"/></g>
<g id="o1e2"><text x="1064.9" y="456.5">创建时间</text><path d="M1061 461.5H1086"/></g>
<g id="o2"><text x="934.3" y="516.3">待收货</text><path d="M930.6 521.3H953"/></g>
<g id="o2a"><text x="970.8" y="468.4">延长收货</text><path d="M967 473.3H992.3"/></g>
<g id="o2b"><text x="970.8" y="480.5">查看物流</text><path d="M967 485.4H992.3"/></g>
<g id="o2c"><text x="970.8" y="492.4">确认收货</text><path d="M967 497.3H992.3"/></g>
<g id="o2d"><text x="970.8" y="528.4">订单信息</text><path d="M967 533.1H994"/></g>
<g id="o2d1"><text x="1012.2" y="504.5">订单编号</text><path d="M1008 509.4H1033.4"/></g>
<g id="o2d2"><text x="1012.2" y="516.5">付款时间</text><path d="M1008 521.5H1033.4"/></g>
<g id="o2d3"><text x="1012.2" y="528.4">发货时间</text><path d="M1008 533.3H1033.4"/></g>
<g id="o2d4"><text x="1012.2" y="540.5">成交时间</text><path d="M1008 545.4H1033.4"/></g>
<g id="o2d5"><text x="1012.2" y="552.4">创建时间</text><path d="M1008 557.3H1033.4"/></g>
<g id="o2e"><text x="970.8" y="564.5">联系卖家</text><path d="M967 569.4H992.3"/></g>
<g id="o3"><text x="934.3" y="606.5">待发货</text><path d="M930.6 611.4H953"/></g>
<g id="o3a"><text x="970.8" y="576.6">提醒卖家</text><path d="M967 581.5H992.3"/></g>
<g id="o3b"><text x="970.8" y="588.4">退款</text><path d="M967 593.3H983"/></g>
<g id="o3c"><text x="970.8" y="600.5">联系卖家</text><path d="M967 605.4H992.3"/></g>
<g id="o3d"><text x="970.8" y="636.3">订单信息</text><path d="M967 641.3H994"/></g>
<g id="o3d1"><text x="1012.2" y="612.4">订单编号</text><path d="M1008 617.3H1033.4"/></g>
<g id="o3d2"><text x="1012.2" y="624.5">付款时间</text><path d="M1008 629.4H1033.4"/></g>
<g id="o3d3"><text x="1012.2" y="636.3">发货时间</text><path d="M1008 641.3H1033.4"/></g>
<g id="o3d4"><text x="1012.2" y="648.4">成交时间</text><path d="M1008 653.4H1033.4"/></g>
<g id="o3d5"><text x="1012.2" y="660.3">创建时间</text><path d="M1008 665.2H1033.4"/></g>
<g id="o4"><text x="933.9" y="717.3">待评价</text><path d="M929.4 722.4H952.7"/></g>
<g id="o4a"><text x="971" y="672.5">申请售后</text><path d="M968.5 677.2H992"/></g>
<g id="o4b"><text x="971" y="684.3">查看物流</text><path d="M968.5 689.2H992"/></g>
<g id="o4c"><text x="971" y="711.6">评价</text><path d="M968.5 716.1H985.2"/></g>
<g id="o4c1"><text x="1003" y="696.4">上传图片</text><path d="M999.5 701.2H1024.3"/></g>
<g id="o4c2"><text><tspan x="1003" y="708.4">写评论（不超过100个字符，除特殊符号和非法</tspan><tspan x="1003" y="714.3">字符）</tspan></text><path d="M999.5 718.8H1102.6"/></g>
<g id="o4c3"><text x="1003" y="726.5">打星级（1-5星）</text><path d="M999.5 731H1039.3"/></g>
<g id="o4d"><text x="971" y="762.5">订单信息</text><path d="M968.5 767.2H994"/></g>
<g id="o4d1"><text x="1012.2" y="738.5">订单编号</text><path d="M1008 743H1033.4"/></g>
<g id="o4d2"><text x="1012.2" y="750.5">付款时间</text><path d="M1008 755H1033.4"/></g>
<g id="o4d3"><text x="1012.2" y="762.5">发货时间</text><path d="M1008 767H1033.4"/></g>
<g id="o4d4"><text x="1012.2" y="774.5">成交时间</text><path d="M1008 779H1033.4"/></g>
<g id="o4d5"><text x="1012.2" y="786.5">创建时间</text><path d="M1008 791H1033.4"/></g>
<g id="o5"><text x="933.9" y="859.9">退款/售后</text><path d="M929.4 864.4H973"/></g>
<g id="o5a"><text x="977.2" y="859.9">商品</text><path d="M973 864.4H990.2"/></g>
<g id="o5a1"><text x="1009.2" y="825.5">退款/退货</text><path d="M1005 829.9H1033.5"/></g>
<g id="o5a1a"><text x="1052.1" y="798.6">退款/退货原因</text><path d="M1048 803.1H1084.3"/></g>
<g id="o5a1b"><text x="1052.1" y="816.5">退款描述</text><path d="M1048 821H1075"/></g>
<g id="o5a1b1"><text x="1093.5" y="810.6">文字描述</text><path d="M1090 814.9H1114.8"/></g>
<g id="o5a1b2"><text x="1093.5" y="822.6">图片描述</text><path d="M1090 827H1114.8"/></g>
<g id="o5a1c"><text><tspan x="1052.1" y="834.4">运费险（购买商品时购买了运费险系统会退给卖</tspan><tspan x="1052.1" y="840.3">家运费）</tspan></text><path d="M1048 844.8H1151.4"/></g>
<g id="o5a1d"><text x="1052.1" y="852.4">退款/退货信息</text><path d="M1048 856.8H1084.3"/></g>
<g id="o5a2"><text x="1009.2" y="864.4">联系卖家</text><path d="M1005 868.9H1030.5"/></g>
<g id="o5a3"><text x="1009.2" y="876.2">拨打电话（卖家电话）</text><path d="M1005 881H1058.5"/></g>
<g id="o5a4"><text x="1009.2" y="894.5">咨询客服</text><path d="M1005 899H1032"/></g>
<g id="o5a4a"><text x="1050.5" y="888.4">机器客服</text><path d="M1047 892.9H1071.8"/></g>
<g id="o5a4b"><text x="1050.5" y="900.4">人工客服</text><path d="M1047 904.9H1071.8"/></g>
<g id="o6"><text x="933.9" y="921.4">我的咨询</text><path d="M929.4 925.9H957"/></g>
<g id="o6a"><text x="975.5" y="912.4">我的评论</text><path d="M972 916.9H1013"/></g>
<g id="o6a1"><text x="1017.2" y="912.4">买家对商品的评论列表，以及卖家的回复</text><path d="M1013 916.9H1103.5"/></g>
<g id="o6b"><text x="975.5" y="930.3">我的咨询</text><path d="M972 934.8H1013"/></g>
<g id="o6b1"><text><tspan x="1017.2" y="924.4">买家对商品的咨询列表，以及卖家的回复（显示</tspan><tspan x="1017.2" y="930.3">在“消息”中）</tspan></text><path d="M1013 934.8H1117.6"/></g>
<g id="y8"><text x="893.5" y="1216">设置</text><path d="M890 1220.8H906"/></g>
<g id="t1"><text x="924.5" y="980.5">我的收货地址</text><path d="M920.5 985.6H958.7"/></g>
<g id="t1a"><text x="975" y="959.8">添加地址</text><path d="M970 964.6H1001"/></g>
<g id="t1a1"><text x="1016.8" y="941.7">收货人：2-50字符之间，不得包含非法字符</text><path d="M1012 946.5H1113.7"/></g>
<g id="t1a2"><text><tspan x="1016.8" y="953.7">手机号码：11位数字：前三个数字（三大运营</tspan><tspan x="1016.8" y="959.8">商）+8位任意数字</tspan></text><path d="M1012 964.6H1112"/></g>
<g id="t1a3"><text x="1016.8" y="977.6">地址</text><path d="M1012 982.2H1038.7"/></g>
<g id="t1a3a"><text x="1048.5" y="971.9">所在地区：省+市+西安</text><path d="M1045 976.5H1098"/></g>
<g id="t1a3b"><text x="1048.5" y="983.7">详细地址：如道路，门牌号，小区等</text><path d="M1045 988.5H1125.8"/></g>
<g id="t1b"><text x="975" y="1001.5">编辑地址</text><path d="M970 1006.3H1001"/></g>
<g id="t1b1"><text x="1016.8" y="995.8">修改地址</text><path d="M1012 1000.4H1037.7"/></g>
<g id="t1b2"><text x="1016.8" y="1007.6">删除地址</text><path d="M1012 1012.4H1037.7"/></g>
<g id="t2"><text x="924.5" y="1055.8">账户与安全</text><path d="M920.5 1060.6H954"/></g>
<g id="t2a"><text x="970.8" y="1025.4">修改手机号码</text><path d="M966 1030.2H1017"/></g>
<g id="t2a1"><text x="1021.4" y="1025.4">手机接受验证码并输入验证码：4位任意数字</text><path d="M1017 1030.2H1131"/></g>
<g id="t2a2"><text><tspan x="1135.6" y="1019.7">输入更改的手机号码11位数字：前三位（三大运</tspan><tspan x="1135.6" y="1025.8">营商+任意8位数字）</tspan></text><path d="M1131 1030.2H1251"/></g>
<g id="t2a3"><text><tspan x="1255" y="1019.7">更改的手机号接受验证码并输入验证码：4位任</tspan><tspan x="1255" y="1025.8">意数字</tspan></text><path d="M1251 1030.2H1370"/></g>
<g id="t2a4"><text x="1374.1" y="1025.4">更改成功</text><path d="M1370 1030.2H1395.3"/></g>
<g id="t2b"><text x="970.8" y="1044">修改登陆密码</text><path d="M966 1048.7H1003"/></g>
<g id="t2b1"><text x="1021.4" y="1037.8">输入原密码</text><path d="M1017 1042.6H1047.5"/></g>
<g id="t2b2"><text x="1021.4" y="1049.9">输入新密码</text><path d="M1017 1054.5H1047.5"/></g>
<g id="t2c"><text x="970.8" y="1061.7">注销账户</text><path d="M966 1066.3H992"/></g>
<g id="t2d"><text x="970.8" y="1085.6">账户保护</text><path d="M966 1090.2H992"/></g>
<g id="t2d1"><text x="1011.9" y="1073.6">手机验证</text><path d="M1008 1078.4H1033.1"/></g>
<g id="t2d2"><text x="1011.9" y="1085.6">声纹密保</text><path d="M1008 1090.2H1033.1"/></g>
<g id="t2d3"><text x="1011.9" y="1097.7">扫脸</text><path d="M1008 1102.3H1022"/></g>
<g id="t3"><text x="924.5" y="1146.3">支付设置</text><path d="M920.5 1151H946"/></g>
<g id="t3a"><text><tspan x="965.9" y="1109.6">小额免密（支付在购买100元以下的订单无需支</tspan><tspan x="965.9" y="1115.7">付密码，快速支付）</tspan></text><path d="M961 1120.4H1074.6"/></g>
<g id="t3a1"><text x="1086" y="1109.6">同意协议并开通免密支付</text><path d="M1082 1114.3H1139.8"/></g>
<g id="t3a2"><text x="1086" y="1121.6">查看协议</text><path d="M1082 1126.2H1107"/></g>
<g id="t3b"><text x="965.9" y="1139.8">生物支付</text><path d="M961 1144.3H986"/></g>
<g id="t3b1"><text x="1007.7" y="1133.4">指纹</text><path d="M1004 1138H1019.5"/></g>
<g id="t3b2"><text x="1007.7" y="1145.5">刷脸</text><path d="M1004 1150.1H1019.5"/></g>
<g id="t3c"><text x="965.9" y="1176.9">支付密码</text><path d="M961 1181.6H986"/></g>
<g id="t3c1"><text x="1007.7" y="1166.7">修改支付密码（在有支付密码的情况）</text><path d="M1004 1171.1H1092.5"/></g>
<g id="t3c1a"><text x="1109.5" y="1157.4">输入原支付密码</text><path d="M1106 1162H1142"/></g>
<g id="t3c1b"><text><tspan x="1109.5" y="1169.8">输入新的支付密码（6位任意数字，不能和原密</tspan><tspan x="1109.5" y="1175.9">码一样）</tspan></text><path d="M1106 1180.1H1208.3"/></g>
<g id="t3c2"><text x="1007.7" y="1187.7">输入支付密码（6位任意数字）</text><path d="M1004 1192.1H1074"/></g>
<g id="t4"><text x="924.5" y="1211.6">音效与通知</text><path d="M920.5 1216.4H954"/></g>
<g id="t4a"><text x="970.8" y="1199.8">新消息提醒（勾选对号）</text><path d="M966 1204.2H1024.3"/></g>
<g id="t4b"><text x="970.8" y="1211.6">铃声提醒（勾选对号）</text><path d="M966 1216.4H1020"/></g>
<g id="t4c"><text x="970.8" y="1223.7">震动提醒（勾选对号）</text><path d="M966 1228.1H1020"/></g>
<g id="t5"><text x="924.6" y="1235.7">隐私</text><path d="M920.5 1240H953"/></g>
<g id="t5a"><text x="956.9" y="1235.7">系统权限</text><path d="M953 1240H977.5"/></g>
<g id="t6"><text x="924.6" y="1253.4">通用</text><path d="M920.5 1257.6H940"/></g>
<g id="t6a"><text x="956.9" y="1247.6">清除缓存</text><path d="M953 1251.9H977.5"/></g>
<g id="t6b"><text x="956.9" y="1259.8">开启位置服务</text><path d="M953 1264H987.5"/></g>
<g id="t7"><text x="924.6" y="1289.5">问题反馈</text><path d="M920.5 1293.8H944"/></g>
<g id="t7a"><text x="966" y="1277.4">发货售后等交易问题</text><path d="M962 1282H1027"/></g>
<g id="t7a1"><text x="1031.3" y="1277.4">联系客服</text><path d="M1027 1282H1056.8"/></g>
<g id="t7a1a"><text x="1072.1" y="1271.7">机器客服</text><path d="M1068 1276.1H1093"/></g>
<g id="t7a1b"><text x="1072.1" y="1283.8">人工客服</text><path d="M1068 1288H1093"/></g>
<g id="t7b"><text x="966" y="1301.6">软件使用问题</text><path d="M962 1305.9H997"/></g>
<g id="t7b1"><text x="1016.5" y="1295.9">功能异常</text><path d="M1013 1300.1H1037.4"/></g>
<g id="t7b2"><text x="1016.5" y="1307.8">产品建议</text><path d="M1013 1312H1037.4"/></g>
<g id="t8"><text x="924.6" y="1355.6">关于电商</text><path d="M920.5 1360H944"/></g>
<g id="t8a"><text x="966" y="1319.7">新版本解测（显示是不是最新版）</text><path d="M962 1323.9H1038.5"/></g>
<g id="t8b"><text x="966" y="1331.6">版权信息</text><path d="M962 1335.8H987"/></g>
<g id="t8c"><text x="966" y="1343.7">软件许可使用协议</text><path d="M962 1347.9H1005.8"/></g>
<g id="t8d"><text x="966" y="1355.6">电商平台服务协议</text><path d="M962 1360H1005.8"/></g>
<g id="t8e"><text x="966" y="1367.7">隐私权政策</text><path d="M962 1372H992"/></g>
<g id="t8f"><text x="966" y="1379.6">证照信息</text><path d="M962 1384H987"/></g>
<g id="t8g"><text x="966" y="1391.5">帮助中心</text><path d="M962 1396H987"/></g>
<g id="t9"><text x="924.6" y="1409.6">退出用户</text><path d="M920.5 1414H944"/></g>
<g id="t9a"><text x="966" y="1403.6">退出当前用户</text><path d="M962 1408.1H997"/></g>
<g id="t9b"><text x="966" y="1415.5">换个账户登陆</text><path d="M962 1420H997"/></g>
<g id="t10"><text x="924.6" y="1451.6">用户头像</text><path d="M920.5 1456.1H944"/></g>
<g id="t10a"><text x="966" y="1433.4">修改性别</text><path d="M962 1437.6H995"/></g>
<g id="t10a1"><text x="1007.1" y="1427.8">男</text><path d="M1003 1432.1H1014.6"/></g>
<g id="t10a2"><text x="1007.1" y="1439.7">女</text><path d="M1003 1444H1014.6"/></g>
<g id="t10b"><text x="966" y="1457.4">修改昵称</text><path d="M962 1462H1003"/></g>
<g id="t10b1"><text><tspan x="1007.1" y="1451.6">汉字；汉字+数字；汉字+数字+字母；汉字+数</tspan><tspan x="1007.1" y="1457.4">字+字母+符号（除特殊符号和非法字符）</tspan></text><path d="M1003 1462H1103.3"/></g>
<g id="t10c"><text x="966" y="1469.5">修改头像</text><path d="M962 1474.2H987.5"/></g>
<g id="y9"><text x="892.9" y="1512.2">钱包</text><path d="M889 1516.9H906.4"/></g>
<g id="w1"><text x="924.6" y="1492.9">余额（数字后面+两位小数）</text><path d="M920 1497.5H989.6"/></g>
<g id="w1a"><text x="1005.7" y="1480.8">充值</text><path d="M1002 1485H1034"/></g>
<g id="w1a1"><text x="1037.4" y="1480.8">充值方式（银行卡）</text><path d="M1034 1485H1082.3"/></g>
<g id="w1b"><text x="1005.7" y="1492.9">提现</text><path d="M1002 1497.5H1034"/></g>
<g id="w1b1"><text x="1037.4" y="1492.9">提现到银行卡</text><path d="M1034 1497.5H1068.3"/></g>
<g id="w1c"><text x="1005.7" y="1505">账单</text><path d="M1002 1509.2H1034"/></g>
<g id="w1c1"><text x="1037.4" y="1505">选择年月日（下拉）</text><path d="M1034 1509.2H1082.3"/></g>
<g id="w2"><text x="924.6" y="1531.7">银行卡</text><path d="M920 1536.4H958"/></g>
<g id="w2a"><text x="961.4" y="1531.7">添加银行卡</text><path d="M958 1536.4H1004"/></g>
<g id="w2b"><text x="1007.1" y="1531.7">输入支付密码</text><path d="M1004 1536.4H1040.7"/></g>
<g id="w2b1"><text x="1058.1" y="1516.9">输入姓名（不超过50个字符；除空格和符号）</text><path d="M1054 1521.6H1156.2"/></g>
<g id="w2b2"><text x="1058.1" y="1529">输入银行卡号</text><path d="M1054 1533.2H1088.5"/></g>
<g id="w2b3"><text><tspan x="1058.1" y="1540.9">输入银行卡绑定的手机号并向手机发送四位数字</tspan><tspan x="1058.1" y="1546.6">的验证码</tspan></text><path d="M1054 1551.3H1175"/></g>
<g id="w2b3a"><text x="1178.5" y="1546.6">输入验证码</text><path d="M1175 1551.3H1204.5"/></g>
</g>
<g class="P">
<g id="sy"><text class="m e" x="738.9" y="536.8">首页</text><path class="w" d="M717.6 544H745.9"/></g>
<g id="p1"><text><tspan x="607.2" y="522.2">商品分类（洗护，母婴，医药，女装，男装等</tspan><tspan x="607.2" y="528">等）</tspan></text><path d="M604.2 532.8H705.8"/></g>
<g id="p2"><text class="e" x="697.5" y="539.7">每日推荐（根据买家的喜好来推荐）</text><path d="M623 544H708"/></g>
<g id="p3"><text class="e" x="697.5" y="550.9">便宜好货（根据每天打折的商品来推送）</text><path d="M613.6 555.5H705.8"/></g>
</g>
<g class="C">
<g id="ss"><text class="m e" x="736" y="579.6">搜索（输入想要购买的商品）</text><path class="w" d="M651.4 587.3H745.9"/></g>
<g id="c1"><text class="e" x="631.3" y="571.2">历史搜索（搜索记录）</text><path d="M585.3 575.8H639.6"/></g>
<g id="c2"><text class="e" x="631.3" y="582.5">扫一扫（根据图片来搜索相同或相似的商品）</text><path d="M538 587.3H646.7"/></g>
<g id="c3"><text class="e" x="631.3" y="593.6">输入商品名称（不超过50个字符）</text><path d="M560 598.4H639.6"/></g>
</g>
<g class="G">
<g id="mj"><text class="m" x="714.9" y="758.1">卖家中心</text><path class="w" d="M704.8 765.4H750.2"/></g>
<g id="g1"><text class="e" x="688.7" y="760.7">转到登陆界面</text><path d="M654.6 765.4H704.8"/></g>
<g id="g1a"><text class="e" x="638.5" y="748.9">输入用户名和密码</text><path d="M597.5 753.5H642.5"/></g>
<g id="g1b"><text class="e" x="634.5" y="760.7">忘记密码（转到忘记密码界面）</text><path d="M569.4 765.4H648.6"/></g>
<g id="g1c"><text class="e" x="634.5" y="772.9">注册（转到注册界面）</text><path d="M588 777.6H642.5"/></g>
<g id="g2"><text class="e" x="509.8" y="653.6">我要开店</text><path d="M481.7 657.8H513.9"/></g>
<g id="g2a"><text class="e" x="469.6" y="636.4">选择开店类型</text><path d="M433.6 640.7H473.6"/></g>
<g id="g2a1"><text class="e" x="419.4" y="630.9">企业店铺</text><path d="M397.3 635.3H429.4"/></g>
<g id="g2a2"><text class="e" x="419.4" y="642.2">个人店铺</text><path d="M397.3 646.4H429.4"/></g>
<g id="g2b"><text class="e" x="466.4" y="653.6">阅读开店须知（确认自己符合店铺的相关规定）</text><path d="M369.2 657.8H473.6"/></g>
<g id="g2c"><text><tspan x="372" y="665">申请开店认证（需提供认证相关资料，等待审核</tspan><tspan x="372" y="670.8">通过）</tspan></text><path d="M369.2 675.1H473.6"/></g>
<g id="g3"><text class="e" x="308.8" y="628.2">企业店铺</text><path d="M282.8 632.6H316.7"/></g>
<g id="g3a"><text class="e" x="268.6" y="614.2">扫描营业执照</text><path d="M238.5 618.5H274.6"/></g>
<g id="g3b"><text><tspan x="175.4" y="625.7">工商注册信息（公司名称，营业期限，经营范</tspan><tspan x="175.4" y="631.5">围，营业执照注册号，营业执照所在地）</tspan></text><path d="M172.2 636H274.6"/></g>
<g id="g3c"><text class="e" x="268.6" y="642.8">个人店铺需要的信息</text><path d="M224.4 647.4H274.6"/></g>
<g id="g4"><text class="e" x="308.8" y="665.2">个人店铺</text><path d="M282.8 669.6H316.7"/></g>
<g id="g4a"><text class="e" x="268.6" y="653.6">扫描证件照片</text><path d="M238.5 658.1H274.6"/></g>
<g id="g4b"><text class="e" x="268.6" y="665.2">填写联系地址</text><path d="M238.5 669.6H274.6"/></g>
<g id="g4c"><text class="e" x="268.6" y="676.5">验证手机号码</text><path d="M238.5 680.8H274.6"/></g>
<g id="g5"><text class="e" x="510.2" y="860.1">我的店铺</text><path d="M487 864.8H512.8"/></g>
<g id="g5a"><text class="e" x="469.6" y="721.6">店铺管理</text><path d="M441.5 726.4H473.7"/></g>
<g id="g5a1"><text class="e" x="428.6" y="682">店铺首页</text><path d="M395 686.1H433.5"/></g>
<g id="g5a1d"><text class="e" x="388.4" y="682">快速链接至店铺首页</text><path d="M343 686.1H395"/></g>
<g id="g5a2"><text class="e" x="428.6" y="693">查看店铺</text><path d="M395 697.6H433.5"/></g>
<g id="g5a2d"><text class="e" x="388.4" y="693">查看店铺基本信息，以及入驻时提交的相关资料</text><path d="M286.8 697.6H395"/></g>
<g id="g5a3"><text class="e" x="428.6" y="704.5">基本设置</text><path d="M395 709.1H433.5"/></g>
<g id="g5a3d"><text class="e" x="388.4" y="704.5">卖家可修改店铺基本信息</text><path d="M333 709.1H395"/></g>
<g id="g5a4"><text class="e" x="428.6" y="716">店员管理</text><path d="M395 720.6H433.5"/></g>
<g id="g5a4d"><text class="e" x="388.4" y="716">卖家可以为自己店铺增加店员</text><path d="M323 720.6H395"/></g>
<g id="g5a5"><text class="e" x="428.6" y="727">角色管理</text><path d="M395 731.6H433.5"/></g>
<g id="g5a5d"><text class="e" x="388.4" y="727">卖家可以为自己的店员分配管理权限</text><path d="M310 731.6H395"/></g>
<g id="g5a6"><text class="e" x="428.6" y="744.3">模板设置</text><path d="M395 748.9H433.5"/></g>
<g id="g5a6d"><text><tspan x="289.5" y="738.6">卖家可以使用平台提供的店铺模板，可以自行装</tspan><tspan x="289.5" y="744.3">修店铺首页和店铺列表页</tspan></text><path d="M286.8 748.9H395"/></g>
<g id="g5a7"><text class="e" x="428.6" y="761.6">保证金</text><path d="M400 766.2H433.5"/></g>
<g id="g5a7d"><text><tspan x="294.8" y="755.8">卖家的保证金账户，记录保证金的流向，保证金</tspan><tspan x="294.8" y="761.6">可在线充值</tspan></text><path d="M291.5 766.2H400"/></g>
<g id="g5b"><text class="e" x="469.6" y="798.9">交易管理</text><path d="M441.5 803.5H473.7"/></g>
<g id="g5b1"><text class="e" x="428.6" y="779">订单管理</text><path d="M395 783.3H433.5"/></g>
<g id="g5b1d"><text><tspan x="294.8" y="773.1">卖家管理自己店铺中的订单，可查看详情，发</tspan><tspan x="294.8" y="779">货，取消订单，延迟收货申请等操作</tspan></text><path d="M292 783.3H395"/></g>
<g id="g5b2"><text class="e" x="428.6" y="790.5">退货管理</text><path d="M395 794.8H433.5"/></g>
<g id="g5b2d"><text class="e" x="388.4" y="790.5">卖家处理买家发起的退货申请</text><path d="M323 794.8H395"/></g>
<g id="g5b3"><text class="e" x="428.6" y="802">退款管理</text><path d="M395 806.3H433.5"/></g>
<g id="g5b3d"><text class="e" x="388.4" y="802">卖家处理买家发起的退款申请</text><path d="M323 806.3H395"/></g>
<g id="g5b4"><text class="e" x="428.6" y="819.3">评论管理</text><path d="M395 823.5H433.5"/></g>
<g id="g5b4d"><text><tspan x="289.5" y="813.1">卖家可对买家发表评论进行查看，解释等操作，</tspan><tspan x="289.5" y="819.3">不能删除评论</tspan></text><path d="M286.8 823.5H395"/></g>
<g id="g5c"><text class="e" x="469.6" y="836.1">物流管理</text><path d="M443 840.9H473.7"/></g>
<g id="g5c1"><text><tspan x="335" y="830.3">物流工具：卖家管理自己的发货地址，退货地</tspan><tspan x="335" y="836.1">址，店铺使用的物流公司，以及运费模板</tspan></text><path d="M333.4 840.9H443"/></g>
<g id="g5d"><text class="e" x="469.5" y="890.6">商品管理</text><path d="M446.8 895.1H473.7"/></g>
<g id="g5d1"><text class="e" x="429" y="847.7">发布商品</text><path d="M400 852.3H432.5"/></g>
<g id="g5d1d"><text class="e" x="387.9" y="847.7">卖家可以发布自己的商品，在平台销售</text><path d="M307 852.3H400"/></g>
<g id="g5d2"><text class="e" x="429" y="858.9">批量发布商品</text><path d="M392 863.4H432.5"/></g>
<g id="g5d2d"><text class="e" x="379" y="858.9">卖家批量发布自己的商品，在平台销售</text><path d="M297.4 863.4H392"/></g>
<g id="g5d3"><text class="e" x="429" y="876.1">出售中的商品</text><path d="M392 880.9H432.5"/></g>
<g id="g5d3d"><text><tspan x="285.6" y="870.5">卖家上架在售的商品列表，可以快速筛选，编</tspan><tspan x="285.6" y="876.1">辑，批量操作商品包邮等</tspan></text><path d="M283.1 880.9H392"/></g>
<g id="g5d4"><text class="e" x="429" y="887.8">仓库中的商品</text><path d="M392 892.3H432.5"/></g>
<g id="g5d4d"><text class="e" x="379" y="887.8">卖家下架的商品列表</text><path d="M334.5 892.3H392"/></g>
<g id="g5d5"><text class="e" x="429" y="905">预警中的商品</text><path d="M392 909.5H432.5"/></g>
<g id="g5d5d"><text><tspan x="280.8" y="899.1">商品库存达到预警值时，商品进入此列表，提醒</tspan><tspan x="280.8" y="905">卖家补货</tspan></text><path d="M279.9 909.5H392"/></g>
<g id="g5d6"><text class="e" x="429" y="916.5">商品分配管理</text><path d="M392 920.6H432.5"/></g>
<g id="g5d6d"><text class="e" x="379" y="916.5">卖家可以自定义分类，此分只能在自己店铺使用</text><path d="M279.9 920.6H392"/></g>
<g id="g5d7"><text class="e" x="429" y="933.6">商品品牌管理</text><path d="M392 938.1H432.5"/></g>
<g id="g5d7d"><text><tspan x="280.8" y="927.9">卖家向平台申请品牌，平台审核通过，卖家才能</tspan><tspan x="280.8" y="933.6">使用品牌，品牌由平台管理</tspan></text><path d="M279.9 938.1H392"/></g>
<g id="g5e"><text class="e" x="469.5" y="961.9">客户服务</text><path d="M446.8 966.4H473.7"/></g>
<g id="g5e1"><text class="e" x="429" y="945.1">投诉管理</text><path d="M400 949.8H432.5"/></g>
<g id="g5e1d"><text class="e" x="388.3" y="945.1">投诉列表，可查看，可删除</text><path d="M330 949.8H400"/></g>
<g id="g5e2"><text class="e" x="429" y="956.3">举报管理</text><path d="M400 961H432.5"/></g>
<g id="g5e2d"><text class="e" x="388.3" y="956.3">举报列表，可查看，可删除</text><path d="M330 961H400"/></g>
<g id="g5e3"><text class="e" x="429" y="967.7">咨询管理</text><path d="M400 972.2H432.5"/></g>
<g id="g5e3d"><text class="e" x="388.3" y="967.7">卖家对买家提交的咨询进行回复</text><path d="M320.5 972.2H400"/></g>
<g id="g5e4"><text class="e" x="429" y="979.1">在线客服管理</text><path d="M392 983.6H432.5"/></g>
<g id="g5e4d"><text class="e" x="379" y="979.1">卖家可以管理自己店铺的在线客服</text><path d="M306.5 983.6H392"/></g>
<g id="g5f"><text class="e" x="469.5" y="998.9">商户信息</text><path d="M446.8 1003.4H473.7"/></g>
<g id="g5f1"><text class="e" x="429" y="990.3">商户信息</text><path d="M400 995H432.5"/></g>
<g id="g5f1d"><text class="e" x="388.3" y="990.3">商户信息的维护</text><path d="M353.4 995H400"/></g>
<g id="g5f2"><text class="e" x="429" y="1007.9">修改密码</text><path d="M400 1012.4H432.5"/></g>
<g id="g5f2d"><text><tspan x="290" y="1001.7">卖家可以修改自己的密码，修改时必须输入自己</tspan><tspan x="290" y="1007.9">的原密码，且新密码不能和原密码相同</tspan></text><path d="M288 1012.4H400"/></g>
</g>
<g id="summaries">
<g id="s1"><path class="k" d="M984 16.5H987V42.6H984M987 29.6H990"/><rect class="bx" x="994" y="25" width="26" height="9.7" rx="2.5"/><text class="bt" x="1007" y="29.9">登陆成功</text></g>
<g id="s2"><path class="k" d="M1095.6 82.6H1098.6V110H1095.6M1098.6 96.3H1101.6"/><rect class="bx" x="1105.3" y="91.7" width="57.9" height="9.7" rx="2.5"/><text class="bt" x="1134.2" y="96.5">输入验证码，进入下一步</text></g>
<g id="s3"><path class="k" d="M1103 113H1106V145.6H1103M1106 129.3H1109"/><rect class="bx" x="1113.2" y="124.4" width="29.4" height="9.7" rx="2.5"/><text class="bt" x="1127.9" y="129.3">进入下一步</text></g>
<g id="s4"><path class="k" d="M1080.8 149H1083.8V193.5H1080.8M1083.8 171.2H1086.8"/><rect class="bx" x="1091.7" y="166.4" width="24.5" height="9.7" rx="2.5"/><text class="bt" x="1104" y="171.3">注册成功</text></g>
<g id="s5"><path class="k" d="M1108 205H1111.5V250H1108M1111.5 227.5H1115"/><rect class="bx" x="1119" y="222.7" width="63" height="9.7" rx="2.5"/><text class="bt" x="1150.5" y="227.6">点击商品（可多选或全选）</text></g>
<g id="s6"><path class="k" d="M1036.6 501H1040V557.5H1036.6M1040 529.3H1043.4"/><rect class="bx" x="1046.7" y="524.2" width="54.7" height="10.2" rx="2.5"/><text class="bt" x="1074" y="529.3">系统根据时间自动生成</text></g>
<g id="s7"><path class="k" d="M1036.6 608.5H1040V665.5H1036.6M1040 637H1043.4"/><rect class="bx" x="1046.7" y="631.9" width="54.7" height="10.2" rx="2.5"/><text class="bt" x="1074" y="637">系统根据时间自动生成</text></g>
<g id="s8"><path class="k" d="M1106 692.8H1109.3V731.3H1106M1109.3 712H1112.6"/><rect class="bx" x="1116.3" y="707.2" width="26.3" height="9.7" rx="2.5"/><text class="bt" x="1129.5" y="712.1">评价成功</text></g>
<g id="s9"><path class="k" d="M1036.8 735H1040.2V791H1036.8M1040.2 763H1043.6"/><rect class="bx" x="1046.8" y="757.9" width="54.7" height="10.2" rx="2.5"/><text class="bt" x="1074.1" y="763">系统根据时间自动生成</text></g>
<g id="s10"><path class="k" d="M1050 1034H1053.5V1054.8H1050M1053.5 1044.4H1057"/><rect class="bx" x="1060.9" y="1039.6" width="26.1" height="9.7" rx="2.5"/><text class="bt" x="1074" y="1044.5">修改成功</text></g>
<g id="s11"><path class="k" d="M1211.6 1153.9H1215.2V1192.5H1211.6M1215.2 1173.2H1218.8"/><rect class="bx" x="1222" y="1168.4" width="26.2" height="9.7" rx="2.5"/><text class="bt" x="1235.1" y="1173.3">设置成功</text></g>
<g id="s12"><path class="k" d="M1000.4 1400H1003.6V1420.2H1000.4M1003.6 1410.1H1006.8"/><rect class="bx" x="1010.3" y="1405.2" width="35.2" height="9.7" rx="2.5"/><text class="bt" x="1027.9" y="1410.1">返回登陆界面</text></g>
<g id="s13"><path class="k" d="M1208.5 1512.6H1211.8V1552H1208.5M1211.8 1532.3H1215.1"/><rect class="bx" x="1218.5" y="1527.4" width="25.8" height="9.7" rx="2.5"/><text class="bt" x="1231.4" y="1532.3">添加成功</text></g>
<g id="s14"><path class="k" d="M446.4 352.1H443.4V384.5H446.4M443.4 368.3H440.2"/><rect class="bx" x="348.5" y="363.6" width="87.7" height="10" rx="2.5"/><text class="bt" x="392.3" y="368.6">保存商品属性和 数量并在购物车中显示</text></g>
<g id="s15"><path class="k" d="M450.5 388.3H447.5V409H450.5M447.5 398.6H444.3"/><rect class="bx" x="423.9" y="393.5" width="17.1" height="10.2" rx="2.5"/><text class="bt" x="432.5" y="398.6">确定</text></g>
<g id="s16"><path class="k" d="M328.5 373.9H324.6V414.5H328.5M324.6 394.5H321"/><rect class="bx" x="292.3" y="389.6" width="26" height="9.7" rx="2.5"/><text class="bt" x="305.3" y="394.5">提交订单</text></g>
<g id="s17"><path class="k" d="M243 380.9H240.2V400.5H243M240.2 390.6H236.4"/><rect class="bx" x="127.8" y="379.8" width="104.7" height="21.6" rx="2.5"/><text class="bt"><tspan x="180.2" y="383.8">输入支付密码或者指纹，面部识别支付（余额不</tspan><tspan x="180.2" y="391.2">足的情况下显示支付失败并将订单信息保存在待</tspan><tspan x="180.2" y="398">支付界面里）</tspan></text></g>
<g id="s18"><path class="k" d="M535.2 567.5H532V598.7H535.2M532 583.2H528.6"/><rect class="bx" x="480.1" y="578.2" width="44.9" height="10" rx="2.5"/><text class="bt" x="502.5" y="583.2">转到购买流程页面</text></g>
<g id="s19"><path class="k" d="M566.1 745H562.1V778H566.1M562.1 761.6H559"/><rect class="bx" x="530" y="756.5" width="26.1" height="10" rx="2.5"/><text class="bt" x="543" y="761.5">登陆成功</text></g>
<g id="s20"><path class="k" d="M365.9 627.2H363.1V675.4H365.9M363.1 651.3H360"/><rect class="bx" x="329.8" y="646.8" width="25.3" height="9.7" rx="2.5"/><text class="bt" x="342.5" y="651.6">立即认证</text></g>
<g id="s21"><path class="k" d="M170.1 610.4H166.1V681.3H170.1M166.1 645.6H162.5"/><rect class="bx" x="124.7" y="640.9" width="34.6" height="9.7" rx="2.5"/><text class="bt" x="142" y="645.8">转到我的店铺</text></g>
</g>
</g>
<g id="watermark"><text x="1150" y="1528" style="font-size:42px;font-weight:700;fill:#959595;stroke:#fff;stroke-width:1.2px;paint-order:stroke;dominant-baseline:auto;opacity:.85">知乎 @青云</text></g>
</g>
</svg>
